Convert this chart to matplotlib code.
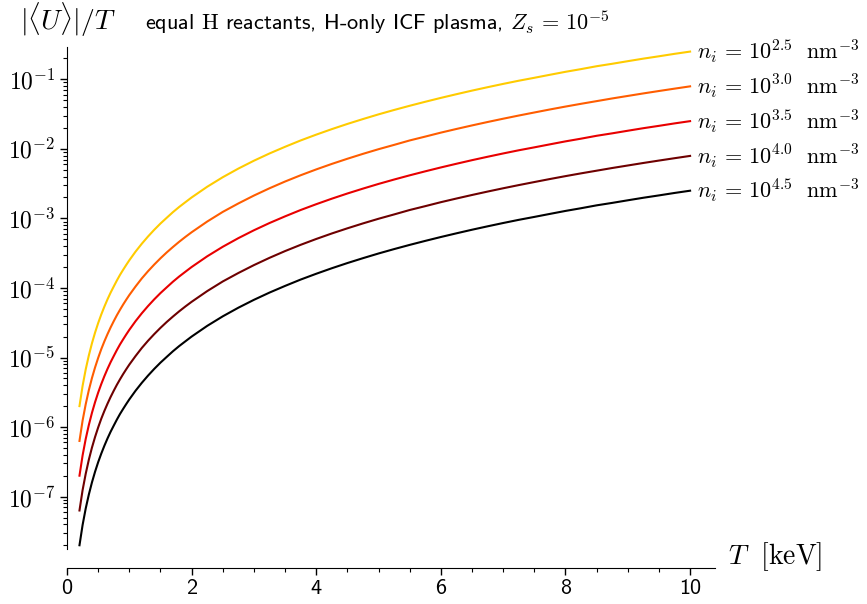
import matplotlib
matplotlib.use("Agg")
import matplotlib.pyplot as plt
import matplotlib.ticker as mticker
import numpy as np

plt.rcParams['mathtext.fontset'] = 'cm'
plt.rcParams['font.family'] = ['cmss10', 'DejaVu Sans']
plt.rcParams['axes.unicode_minus'] = False

T = [0.2, 0.25, 0.3, 0.35, 0.4, 0.45, 0.5, 0.55, 0.6, 0.65, 0.7, 0.75, 0.8, 0.85,
     0.9, 0.95, 1.0, 1.1, 1.2, 1.3, 1.4, 1.5, 1.6, 1.7, 1.8, 1.9, 2.0, 2.25, 2.5,
     2.75, 3.0, 3.25, 3.5, 3.75, 4.0, 4.25, 4.5, 4.75, 5.0, 5.25, 5.5, 5.75, 6.0,
     6.25, 6.5, 6.75, 7.0, 7.25, 7.5, 7.75, 8.0, 8.25, 8.5, 8.75, 9.0, 9.25, 9.5,
     9.75, 10.0]

U_25 = [2.00e-6, 3.91e-6, 6.75e-6, 1.07e-5, 1.60e-5, 2.28e-5, 3.13e-5, 4.16e-5,
        5.40e-5, 6.87e-5, 8.58e-5, 1.05e-4, 1.28e-4, 1.54e-4, 1.82e-4, 2.14e-4,
        2.50e-4, 3.33e-4, 4.32e-4, 5.49e-4, 6.86e-4, 8.44e-4, 1.02e-3, 1.23e-3,
        1.46e-3, 1.71e-3, 2.00e-3, 2.85e-3, 3.91e-3, 5.20e-3, 6.75e-3, 8.58e-3,
        1.07e-2, 1.32e-2, 1.60e-2, 1.92e-2, 2.28e-2, 2.68e-2, 3.13e-2, 3.62e-2,
        4.16e-2, 4.75e-2, 5.40e-2, 6.10e-2, 6.87e-2, 7.69e-2, 8.58e-2, 9.53e-2,
        1.05e-1, 1.16e-1, 1.28e-1, 1.40e-1, 1.54e-1, 1.67e-1, 1.82e-1, 1.98e-1,
        2.14e-1, 2.32e-1, 2.50e-1]
U_30 = [6.32e-7, 1.24e-6, 2.13e-6, 3.39e-6, 5.06e-6, 7.20e-6, 9.88e-6, 1.32e-5,
        1.71e-5, 2.17e-5, 2.71e-5, 3.33e-5, 4.05e-5, 4.85e-5, 5.76e-5, 6.77e-5,
        7.91e-5, 1.05e-4, 1.37e-4, 1.74e-4, 2.17e-4, 2.67e-4, 3.24e-4, 3.88e-4,
        4.61e-4, 5.42e-4, 6.32e-4, 9.01e-4, 1.24e-3, 1.64e-3, 2.13e-3, 2.71e-3,
        3.39e-3, 4.17e-3, 5.06e-3, 6.07e-3, 7.20e-3, 8.47e-3, 9.88e-3, 1.14e-2,
        1.32e-2, 1.50e-2, 1.71e-2, 1.93e-2, 2.17e-2, 2.43e-2, 2.71e-2, 3.01e-2,
        3.33e-2, 3.68e-2, 4.05e-2, 4.44e-2, 4.85e-2, 5.30e-2, 5.76e-2, 6.26e-2,
        6.78e-2, 7.33e-2, 7.91e-2]
U_35 = [2.00e-7, 3.91e-7, 6.75e-7, 1.07e-6, 1.60e-6, 2.28e-6, 3.13e-6, 4.16e-6,
        5.40e-6, 6.87e-6, 8.58e-6, 1.05e-5, 1.28e-5, 1.54e-5, 1.82e-5, 2.14e-5,
        2.50e-5, 3.33e-5, 4.32e-5, 5.49e-5, 6.86e-5, 8.44e-5, 1.02e-4, 1.23e-4,
        1.46e-4, 1.71e-4, 2.00e-4, 2.85e-4, 3.91e-4, 5.20e-4, 6.75e-4, 8.58e-4,
        1.07e-3, 1.32e-3, 1.60e-3, 1.92e-3, 2.28e-3, 2.68e-3, 3.13e-3, 3.62e-3,
        4.16e-3, 4.75e-3, 5.40e-3, 6.10e-3, 6.87e-3, 7.69e-3, 8.58e-3, 9.53e-3,
        1.05e-2, 1.16e-2, 1.28e-2, 1.40e-2, 1.54e-2, 1.67e-2, 1.82e-2, 1.98e-2,
        2.14e-2, 2.32e-2, 2.50e-2]
U_40 = [6.32e-8, 1.24e-7, 2.13e-7, 3.39e-7, 5.06e-7, 7.20e-7, 9.88e-7, 1.32e-6,
        1.71e-6, 2.17e-6, 2.71e-6, 3.33e-6, 4.05e-6, 4.85e-6, 5.76e-6, 6.77e-6,
        7.91e-6, 1.05e-5, 1.37e-5, 1.74e-5, 2.17e-5, 2.67e-5, 3.24e-5, 3.88e-5,
        4.61e-5, 5.42e-5, 6.32e-5, 9.01e-5, 1.24e-4, 1.64e-4, 2.13e-4, 2.71e-4,
        3.39e-4, 4.17e-4, 5.06e-4, 6.07e-4, 7.20e-4, 8.47e-4, 9.88e-4, 1.14e-3,
        1.32e-3, 1.50e-3, 1.71e-3, 1.93e-3, 2.17e-3, 2.43e-3, 2.71e-3, 3.01e-3,
        3.33e-3, 3.68e-3, 4.05e-3, 4.44e-3, 4.85e-3, 5.30e-3, 5.76e-3, 6.26e-3,
        6.78e-3, 7.33e-3, 7.91e-3]
U_45 = [2.00e-8, 3.91e-8, 6.75e-8, 1.07e-7, 1.60e-7, 2.28e-7, 3.13e-7, 4.16e-7,
        5.40e-7, 6.87e-7, 8.58e-7, 1.05e-6, 1.28e-6, 1.54e-6, 1.82e-6, 2.14e-6,
        2.50e-6, 3.33e-6, 4.32e-6, 5.49e-6, 6.86e-6, 8.44e-6, 1.02e-5, 1.23e-5,
        1.46e-5, 1.71e-5, 2.00e-5, 2.85e-5, 3.91e-5, 5.20e-5, 6.75e-5, 8.58e-5,
        1.07e-4, 1.32e-4, 1.60e-4, 1.92e-4, 2.28e-4, 2.68e-4, 3.13e-4, 3.62e-4,
        4.16e-4, 4.75e-4, 5.40e-4, 6.10e-4, 6.87e-4, 7.69e-4, 8.58e-4, 9.53e-4,
        1.05e-3, 1.16e-3, 1.28e-3, 1.40e-3, 1.54e-3, 1.67e-3, 1.82e-3, 1.98e-3,
        2.14e-3, 2.32e-3, 2.50e-3]

series = [U_25, U_30, U_35, U_40, U_45]
log_n = ["2.5", "3.0", "3.5", "4.0", "4.5"]
colors = ["#ffcb00", "#ff5d00", "#e80000", "#6e0000", "#000000"]

fig = plt.figure(figsize=(8.67, 6.04), dpi=100)
ax = fig.add_axes([0.0773, 0.0906, 0.7474, 0.8321])

for vals, ln, c in zip(series, log_n, colors):
    ax.plot(T, vals, color=c, lw=1.5)
    ax.text(T[-1] + 0.11, vals[-1], r"$n_i\, =\, 10^{%s}\ \ \mathrm{nm}^{-3}$" % ln,
            ha='left', va='center', fontsize=16, clip_on=False)

ax.set_yscale('log')
ax.set_xlim(0, 10.4)
ax.set_ylim(1.75e-8, 0.294)
ax.set_xticks([0, 2, 4, 6, 8, 10])
ax.set_xticks(np.arange(0, 10.5, 0.5), minor=True)
ax.spines['top'].set_visible(False)
ax.spines['right'].set_visible(False)
ax.spines['bottom'].set_position(('outward', 13.2))
ax.tick_params(axis='both', which='major', length=5, width=1)
ax.tick_params(axis='x', which='major', labelsize=16)
ax.tick_params(axis='y', which='major', labelsize=17)
ax.tick_params(axis='both', which='minor', length=3, width=0.8)
ax.yaxis.set_major_locator(mticker.LogLocator(base=10, numticks=20))
ax.yaxis.set_minor_locator(mticker.LogLocator(base=10, subs=np.arange(2, 10), numticks=20))
ax.yaxis.set_minor_formatter(mticker.NullFormatter())
ax.yaxis.set_major_formatter(mticker.FuncFormatter(
    lambda v, pos: r"$10^{%d}$" % int(round(np.log10(v)))))

fig.text(20 / 867, 1 - 20 / 604, r"$|\langle U\rangle|/T$", fontsize=20, ha='left', va='center')
fig.text(377 / 867, 1 - 22 / 604,
         r"equal $\mathrm{H}$ reactants, H-only ICF plasma, $Z_s\, =\, 10^{-5}$",
         fontsize=16, ha='center', va='center')
fig.text(775 / 867, 1 - 557 / 604, r"$T\ \ [\mathrm{keV}]$", fontsize=20, ha='center', va='center')

fig.savefig("out.png", dpi=100)
